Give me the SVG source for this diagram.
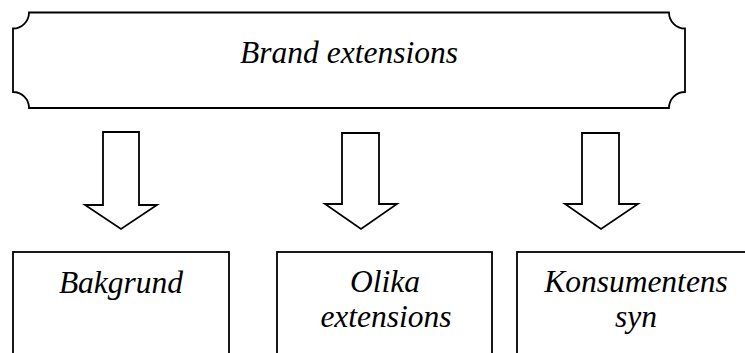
<svg xmlns="http://www.w3.org/2000/svg" width="745" height="353" viewBox="0 0 745 353">
  <style>
    .shape { fill: #ffffff; stroke: #000000; stroke-width: 1.8; stroke-linejoin: miter; }
    .label { font-family: 'Liberation Serif', 'DejaVu Serif', serif; font-style: italic; font-size: 31.5px; fill: #000000; text-anchor: middle; }
  </style>
  <rect x="0" y="0" width="745" height="353" fill="#ffffff"/>
  <g id="brand-extensions">
    <path class="shape" d="M29,12.5 H669 A16,16 0 0 0 685,28.5 V92 A16,16 0 0 0 669,108 H29 A16,16 0 0 0 13,92 V28.5 A16,16 0 0 0 29,12.5 Z"/>
    <text class="label" x="349" y="63">Brand extensions</text>
  </g>
  <g id="connectors">
    <path class="shape" d="M103,132 H139 V205 H157 L121,229 L85,205 H103 Z"/>
    <path class="shape" d="M342,133 H379 V204 H397 L361,229 L325,204 H342 Z"/>
    <path class="shape" d="M582,133 H619 V204 H638 L601,229 L565,204 H582 Z"/>
  </g>
  <g id="bakgrund">
    <rect class="shape" x="13" y="252" width="216" height="130"/>
    <text class="label" x="121" y="293">Bakgrund</text>
  </g>
  <g id="olika-extensions">
    <rect class="shape" x="277" y="252" width="215" height="130"/>
    <text class="label" x="385" y="292">Olika</text>
    <text class="label" x="386" y="327">extensions</text>
  </g>
  <g id="konsumentens-syn">
    <rect class="shape" x="517" y="252" width="240" height="130"/>
    <text class="label" x="636" y="292">Konsumentens</text>
    <text class="label" x="636" y="327">syn</text>
  </g>
</svg>
